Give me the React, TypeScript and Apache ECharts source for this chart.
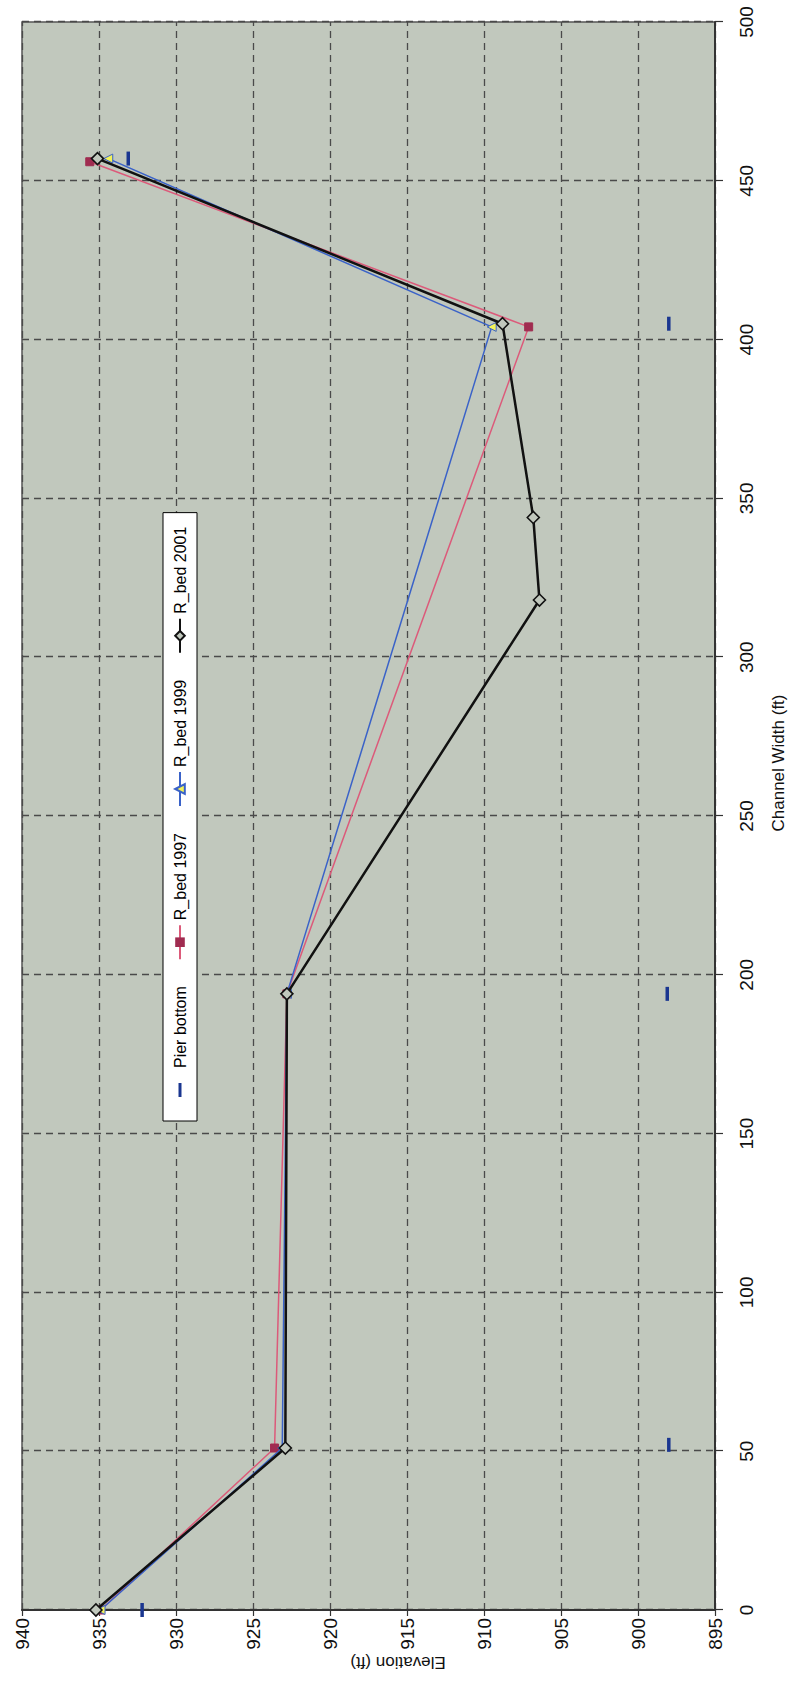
import React, { useEffect, useRef } from "react";
import * as echarts from "echarts";

// ---- data (channel width in ft, elevation in ft) ----
const seriesNames = ["Pier bottom", "R_bed 1997", "R_bed 1999", "R_bed 2001"];
const pierWidth = [0, 52, 194, 405, 457];
const pierElev = [932.2, 898.0, 898.1, 898.0, 933.1];
const bed1997Width = [0, 51, 194, 404, 456];
const bed1997Elev = [934.9, 923.6, 922.8, 907.1, 935.6];
const bed1999Width = [0, 51, 194, 404, 457];
const bed1999Elev = [934.9, 923.1, 922.8, 909.5, 934.4];
const bed2001Width = [0, 51, 194, 318, 344, 405, 457];
const bed2001Elev = [935.2, 922.9, 922.8, 906.4, 906.8, 908.8, 935.1];
const widthTicks = { min: 0, max: 500, interval: 50 };
const elevTicks = { min: 895, max: 940, interval: 5 };
const xTitle = "Channel Width (ft)";
const yTitle = "Elevation (ft)";

const pair = (w: number[], e: number[]) => w.map((v, i) => [v, e[i]]);

const FONT = "'Liberation Sans', Arial, sans-serif";
const W = 1698;
const H = 791;
const PLOT_BG = "#c1c8bd";

export default function App() {
  const ref = useRef<HTMLDivElement>(null);
  useEffect(() => {
    if (!ref.current) return;
    const chart = echarts.init(ref.current, undefined, { renderer: "svg" });
    chart.setOption({
      animation: false,
      backgroundColor: "#ffffff",
      textStyle: { fontFamily: FONT },
      grid: {
        left: 88,
        right: 22,
        top: 22,
        bottom: 76,
        show: true,
        backgroundColor: PLOT_BG,
        borderColor: "#555555",
        borderWidth: 1.5,
      },
      legend: {
        left: 577,
        top: 163,
        orient: "horizontal",
        backgroundColor: "#ffffff",
        borderColor: "#000000",
        borderWidth: 1,
        borderRadius: 0,
        padding: [9, 14, 9, 14],
        itemGap: 26,
        itemWidth: 34,
        itemHeight: 12,
        textStyle: { fontSize: 16, color: "#000", fontFamily: FONT },
        data: [
          { name: seriesNames[0], icon: "path://M0,0 M34,12 M10,4.5 H24 V7.5 H10 Z" },
          seriesNames[1],
          seriesNames[2],
          seriesNames[3],
        ],
      },
      xAxis: {
        type: "value",
        min: widthTicks.min,
        max: widthTicks.max,
        interval: widthTicks.interval,
        axisLine: { show: true, onZero: false, lineStyle: { color: "#333", width: 2 } },
        axisTick: { show: true, length: 8, lineStyle: { color: "#333", width: 1.2 } },
        axisLabel: { fontSize: 19, color: "#111", margin: 22, fontFamily: FONT },
        splitLine: { show: true, lineStyle: { color: "#4a4a4a", width: 1.3, type: [7, 5] } },
      },
      yAxis: {
        type: "value",
        min: elevTicks.min,
        max: elevTicks.max,
        interval: elevTicks.interval,
        axisLine: { show: true, onZero: false, lineStyle: { color: "#333", width: 2 } },
        axisTick: { show: true, length: 6, lineStyle: { color: "#333", width: 1.2 } },
        axisLabel: { fontSize: 19, color: "#111", margin: 8, fontFamily: FONT },
        splitLine: { show: true, lineStyle: { color: "#4a4a4a", width: 1.3, type: [7, 5] } },
      },
      graphic: [
        {
          type: "text",
          x: 935,
          y: 778,
          style: {
            text: xTitle,
            fontSize: 17,
            fill: "#111",
            fontFamily: FONT,
            textAlign: "center",
            textVerticalAlign: "middle",
          },
        },
        {
          type: "text",
          x: 36,
          y: 398,
          rotation: Math.PI / 2,
          style: {
            text: yTitle,
            fontSize: 17,
            fill: "#111",
            fontFamily: FONT,
            textAlign: "center",
            textVerticalAlign: "middle",
          },
        },
      ],
      series: [
        {
          name: seriesNames[0],
          type: "line",
          data: pair(pierWidth, pierElev),
          lineStyle: { width: 0, opacity: 0 },
          symbol: "rect",
          symbolSize: [14, 3.5],
          itemStyle: { color: "#1a3690" },
          z: 2,
        },
        {
          name: seriesNames[1],
          type: "line",
          data: pair(bed1997Width, bed1997Elev),
          lineStyle: { width: 1.5, color: "#dc5a7a" },
          symbol: "rect",
          symbolSize: 8,
          itemStyle: { color: "#a02c50", borderColor: "#a02c50" },
          z: 3,
        },
        {
          name: seriesNames[2],
          type: "line",
          data: pair(bed1999Width, bed1999Elev),
          lineStyle: { width: 1.5, color: "#3a62c8" },
          symbol: "triangle",
          symbolSize: 9,
          itemStyle: { color: "#f2f25a", borderColor: "#3a62c8", borderWidth: 1 },
          z: 4,
        },
        {
          name: seriesNames[3],
          type: "line",
          data: pair(bed2001Width, bed2001Elev),
          lineStyle: { width: 2.5, color: "#111111" },
          symbol: "diamond",
          symbolSize: 12,
          itemStyle: { color: PLOT_BG, borderColor: "#111111", borderWidth: 1.6 },
          z: 5,
        },
      ],
    });
    return () => chart.dispose();
  }, []);

  return (
    <div
      style={{
        position: "absolute",
        left: 0,
        top: 0,
        width: 791,
        height: 1698,
        overflow: "hidden",
        background: "#fff",
      }}
    >
      <div
        ref={ref}
        style={{
          position: "absolute",
          left: 0,
          top: 0,
          width: W,
          height: H,
          transformOrigin: "0 0",
          transform: `translate(0px, ${W}px) rotate(-90deg)`,
        }}
      />
    </div>
  );
}
